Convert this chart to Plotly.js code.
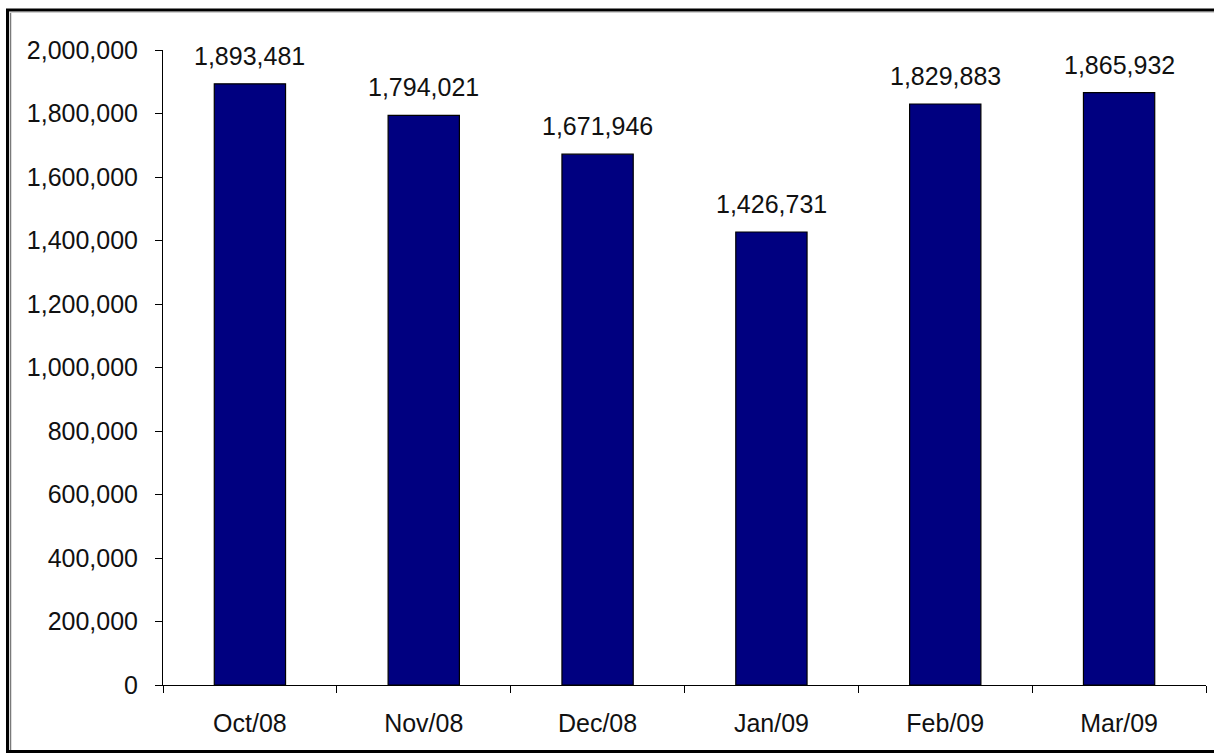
<!DOCTYPE html>
<html>
<head>
<meta charset="utf-8">
<script src="https://cdn.plot.ly/plotly-3.0.1.min.js"></script>
<style>
  html, body { margin: 0; padding: 0; background: #fff; }
  #chart { width: 1214px; height: 754px; }
</style>
</head>
<body>
<div id="chart"></div>
<script>
// ---- data ----
const months = ["Oct/08", "Nov/08", "Dec/08", "Jan/09", "Feb/09", "Mar/09"];
const values = [1893481, 1794021, 1671946, 1426731, 1829883, 1865932];
const yTickValues = [0, 200000, 400000, 600000, 800000, 1000000, 1200000, 1400000, 1600000, 1800000, 2000000];

// ---- layout helpers (pixel -> paper) ----
const W = 1214, H = 754;
const M = { l: 163, r: 8, t: 50, b: 69 };
const plotW = W - M.l - M.r, plotH = H - M.t - M.b;
const px = p => (p - M.l) / plotW;
const py = p => (H - M.b - p) / plotH;

const fontFam = "Liberation Sans, Arial, sans-serif";
const FS = 25;

const trace = {
  type: "bar",
  x: months,
  y: values,
  marker: { color: "#000080", line: { color: "#000000", width: 1.2 } },
  hoverinfo: "x+y"
};

const annotations = months.map((m, i) => ({
  x: m,
  y: values[i],
  xref: "x",
  yref: "y",
  text: values[i].toLocaleString("en-US"),
  showarrow: false,
  yanchor: "bottom",
  yshift: 12,
  font: { family: fontFam, size: FS, color: "#111" }
}));

const shapes = [
  // outer frame: top, left, bottom (thick black)
  { type: "line", xref: "paper", yref: "paper", x0: px(6), x1: px(1214), y0: py(10), y1: py(10), line: { color: "#000", width: 3 } },
  { type: "line", xref: "paper", yref: "paper", x0: px(7.5), x1: px(7.5), y0: py(9), y1: py(753), line: { color: "#000", width: 3 } },
  { type: "line", xref: "paper", yref: "paper", x0: px(6), x1: px(1214), y0: py(751.5), y1: py(751.5), line: { color: "#000", width: 3 } },
  // inner grey lines
  { type: "line", xref: "paper", yref: "paper", x0: px(10.5), x1: px(10.5), y0: py(12), y1: py(750), line: { color: "#7a7a7a", width: 1.5 } },
  { type: "line", xref: "paper", yref: "paper", x0: px(10), x1: px(1214), y0: py(12.5), y1: py(12.5), line: { color: "#cfcfcf", width: 1 } }
];

const layout = {
  width: W,
  height: H,
  margin: M,
  paper_bgcolor: "#ffffff",
  plot_bgcolor: "#ffffff",
  showlegend: false,
  bargap: 0.59,
  font: { family: fontFam, size: FS, color: "#111" },
  xaxis: {
    type: "category",
    range: [-0.5, 5.5],
    showline: true,
    linecolor: "#000",
    linewidth: 1,
    ticks: "outside",
    tickson: "boundaries",
    ticklen: 7,
    tickcolor: "#000",
    tickwidth: 1,
    showgrid: false,
    zeroline: false,
    ticklabelstandoff: 16,
    tickfont: { family: fontFam, size: FS, color: "#111" }
  },
  yaxis: {
    range: [0, 2000000],
    tickvals: yTickValues,
    tickformat: ",",
    showline: true,
    linecolor: "#000",
    linewidth: 1,
    ticks: "outside",
    ticklen: 7,
    tickcolor: "#000",
    tickwidth: 1,
    showgrid: false,
    zeroline: false,
    ticklabelstandoff: 12,
    tickfont: { family: fontFam, size: FS, color: "#111" }
  },
  annotations: annotations,
  shapes: shapes
};

Plotly.newPlot("chart", [trace], layout, { displayModeBar: false, staticPlot: true });
</script>
</body>
</html>
